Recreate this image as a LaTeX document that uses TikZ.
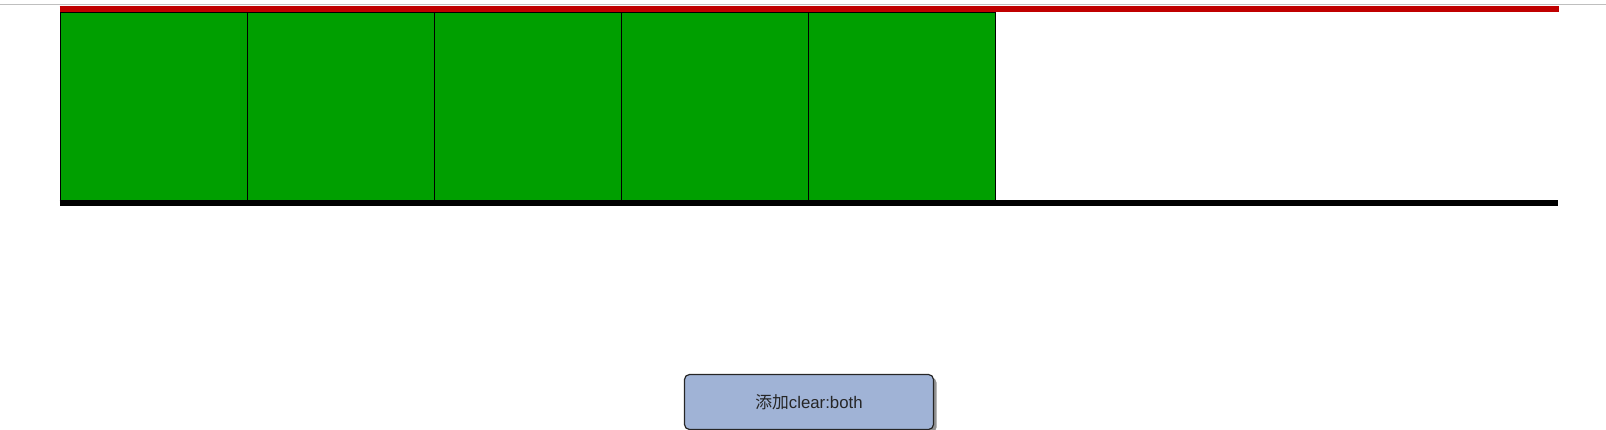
\documentclass[tikz,border=0pt]{standalone}
\usepackage{fontspec}
\setmainfont{Liberation Sans}
\newfontfamily\cjk{Noto Sans CJK SC}
\usetikzlibrary{positioning,shadows}
\definecolor{boxgreen}{RGB}{0,159,0}
\definecolor{barred}{RGB}{192,0,0}
\definecolor{btnblue}{RGB}{160,179,214}
\tikzset{x=1pt, y=-1pt}
\tikzset{floatbox/.style={draw=black, line width=1.3pt, fill=boxgreen, minimum width=187pt, minimum height=188pt, inner sep=0pt, anchor=north west}}
\tikzset{btn/.style={draw=black!85, line width=1.2pt, fill=btnblue, rounded corners=5pt, minimum width=249pt, minimum height=55pt, text=black!85, font=\fontsize{16.8}{19}\selectfont, drop shadow={shadow xshift=3pt, shadow yshift=-3pt, opacity=0.85}}}

\begin{document}
\begin{tikzpicture}
		\useasboundingbox (0,0) rectangle (1606,430);
		\draw[black!25, line width=1pt] (0,5) -- (1606,5);

		\begin{scope}[every node/.append style={floatbox}]
			\node (b1) at (59.5,12) {};
			\node (b2) at (246.5,12) {};
			\node (b3) at (433.5,12) {};
			\node (b4) at (620.5,12) {};
			\node (b5) at (807.5,12) {};
		\end{scope}

		\coordinate (top) at (1559,9);
		\coordinate (bot) at (1558,203);
		\draw[barred, line width=6pt] (b1.north west |- top) -- (top);
		\draw[black, line width=6pt] (b1.south west |- bot) -- (bot);

		\node[btn, text depth=0pt, text height=12pt] (clear) at (809,402) {{\cjk 添加}clear:both};
	\end{tikzpicture}
\end{document}
